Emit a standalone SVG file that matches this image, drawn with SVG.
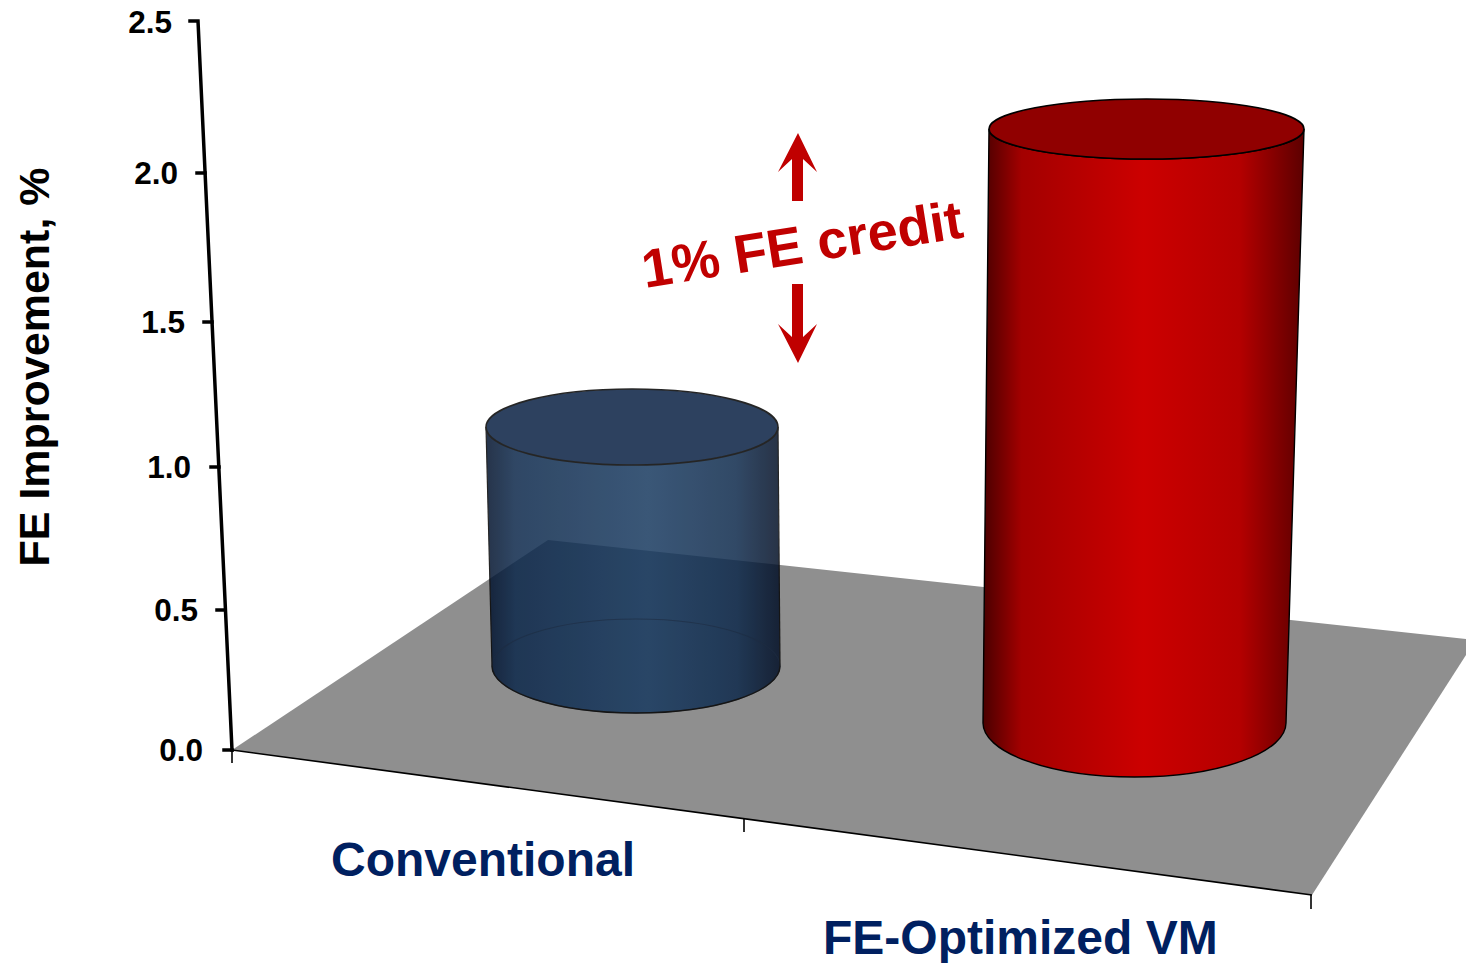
<svg xmlns="http://www.w3.org/2000/svg" width="1466" height="963" viewBox="0 0 1466 963">
  <style>
    .tick-label { font-family: "Liberation Sans", Arial, sans-serif; font-weight: bold; font-size: 31.5px; fill: #000; text-anchor: end; }
    .axis-title { font-family: "Liberation Sans", Arial, sans-serif; font-weight: bold; font-size: 43px; fill: #000; text-anchor: middle; }
    .cat-label { font-family: "Liberation Sans", Arial, sans-serif; font-weight: bold; font-size: 48px; fill: #002060; }
    .credit { font-family: "Liberation Sans", Arial, sans-serif; font-weight: bold; font-size: 54px; fill: #c00000; }
    .axis { stroke: #000; stroke-width: 3.5; fill: none; stroke-linecap: square; }
    .thin { stroke: #000; stroke-width: 1.6; fill: none; }
    .rim { stroke: #000; stroke-width: 1.6; }
    .arrow { fill: #c00000; }
  </style>
  <defs>
    <linearGradient id="blueSide" gradientUnits="userSpaceOnUse" x1="486" y1="0" x2="780" y2="0">
      <stop offset="0" stop-color="#01112b"/>
      <stop offset="0.1" stop-color="#0c284b"/>
      <stop offset="0.55" stop-color="#183a60"/>
      <stop offset="0.85" stop-color="#0e2a4c"/>
      <stop offset="1" stop-color="#020f26"/>
    </linearGradient>
    <linearGradient id="redSide" gradientUnits="userSpaceOnUse" x1="983" y1="0" x2="1304" y2="0">
      <stop offset="0" stop-color="#4a0000"/>
      <stop offset="0.12" stop-color="#a30000"/>
      <stop offset="0.5" stop-color="#cc0000"/>
      <stop offset="0.8" stop-color="#b40000"/>
      <stop offset="1" stop-color="#5c0000"/>
    </linearGradient>
  </defs>

  <!-- floor plane -->
  <g id="floor">
    <polygon points="232,750 548,540 1466,639 1466,655 1312,895" fill="#8f8f8f"/>
    <line class="thin" x1="232" y1="750" x2="1312" y2="895"/>
    <line class="thin" x1="232" y1="750" x2="232" y2="763"/>
    <line class="thin" x1="744" y1="819" x2="744" y2="832"/>
    <line class="thin" x1="1311" y1="895" x2="1311" y2="909"/>
  </g>

  <!-- value axis with ticks -->
  <g id="y-axis">
    <polyline class="axis" points="190,21 198,21 232,750"/>
    <line class="axis" x1="197" y1="173" x2="205" y2="173"/>
    <line class="axis" x1="204" y1="322" x2="212" y2="322"/>
    <line class="axis" x1="211" y1="467" x2="219" y2="467"/>
    <line class="axis" x1="217" y1="610" x2="225" y2="610"/>
    <line class="axis" x1="224" y1="750" x2="232" y2="750"/>
    <text class="tick-label" x="172" y="33">2.5</text>
    <text class="tick-label" x="178" y="184">2.0</text>
    <text class="tick-label" x="185" y="333">1.5</text>
    <text class="tick-label" x="191" y="478">1.0</text>
    <text class="tick-label" x="198" y="621">0.5</text>
    <text class="tick-label" x="203" y="761">0.0</text>
    <text class="axis-title" transform="translate(49,367) rotate(-90)">FE Improvement, %</text>
  </g>

  <!-- Conventional bar: translucent blue cylinder -->
  <g id="bar-conventional" opacity="0.85">
    <path d="M486,427 L492,666 A144,47 0 0 0 780,666 L778,427 A146,38 0 0 1 486,427 Z" fill="url(#blueSide)"/>
    <ellipse cx="636" cy="666" rx="144" ry="47" fill="none" stroke="#0a1a33" stroke-width="1.2" stroke-opacity="0.6"/>
    <path d="M492,666 A144,47 0 0 0 780,666" fill="none" stroke="#000" stroke-width="1.4"/>
    <line x1="486" y1="427" x2="492" y2="666" stroke="#000" stroke-width="1.2"/>
    <line x1="778" y1="427" x2="780" y2="666" stroke="#000" stroke-width="1.2"/>
    <ellipse class="rim" cx="632" cy="427" rx="146" ry="38" fill="#092144"/>
  </g>

  <!-- FE-Optimized VM bar: red cylinder -->
  <g id="bar-optimized">
    <path d="M989,129 L983,723 A151.5,54 0 0 0 1286,723 L1304,129 A157.5,30 0 0 1 989,129 Z" fill="url(#redSide)" stroke="#000" stroke-width="1.4"/>
    <ellipse class="rim" cx="1146.5" cy="129" rx="157.5" ry="30" fill="#900000"/>
  </g>

  <!-- credit annotation -->
  <g id="credit-arrows">
    <polygon class="arrow" points="798,133 817,172 803,159 803,201 792,201 792,159 778,172"/>
    <polygon class="arrow" points="798,363 817,324 803,337 803,284 792,284 792,337 778,324"/>
  </g>
  <g id="credit-label">
    <text class="credit" x="645" y="288" transform="rotate(-9 645 288)">1% FE credit</text>
  </g>

  <!-- category labels -->
  <g id="label-conventional">
    <text class="cat-label" x="331" y="876">Conventional</text>
  </g>
  <g id="label-optimized">
    <text class="cat-label" x="823" y="954">FE-Optimized VM</text>
  </g>
</svg>
